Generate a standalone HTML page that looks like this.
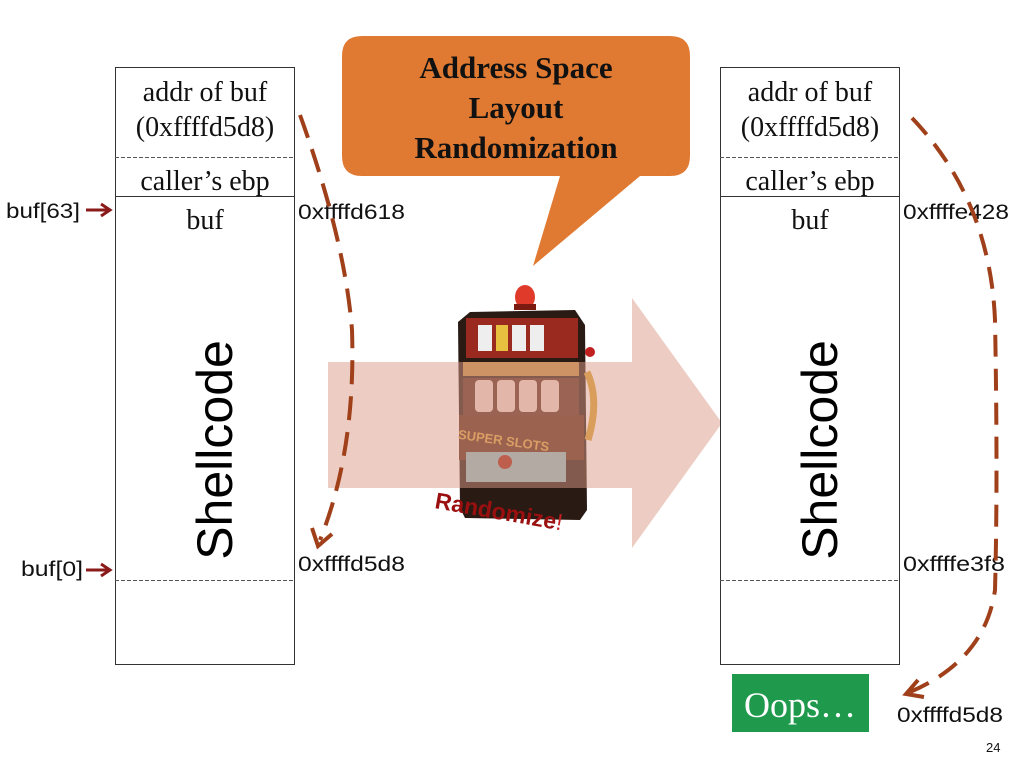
<!DOCTYPE html>
<html><head><meta charset="utf-8"><style>
html,body{margin:0;padding:0;background:#fff;}
svg{display:block;}
.s{font-family:"Liberation Serif",serif;}
.a{font-family:"Liberation Sans",sans-serif;}
</style></head><body>
<svg width="1024" height="768" viewBox="0 0 1024 768" xmlns="http://www.w3.org/2000/svg">
<path d="M362,36 H670 Q690,36 690,56 V156 Q690,176 670,176 H640 L533,266 L560,176 H362 Q342,176 342,156 V56 Q342,36 362,36 Z" fill="#e07a32"/>
<g class="s" font-weight="bold" font-size="31" text-anchor="middle" fill="#111">
<text x="516" y="78">Address Space</text>
<text x="516" y="118">Layout</text>
<text x="516" y="158">Randomization</text>
</g>
<g>
<ellipse cx="525" cy="297" rx="10" ry="12" fill="#e03a2a"/>
<rect x="514" y="304" width="22" height="6" fill="#7a1a10"/>
<path d="M470,312 L575,310 L585,325 L587,510 L580,520 L465,518 L460,508 L458,322 Z" fill="#2a1a14"/>
<rect x="466" y="318" width="112" height="40" fill="#9a2a20"/>
<rect x="478" y="325" width="14" height="26" fill="#eee"/><rect x="496" y="325" width="12" height="26" fill="#e8c040"/><rect x="512" y="325" width="14" height="26" fill="#eee"/><rect x="530" y="325" width="14" height="26" fill="#eee"/>
<rect x="463" y="362" width="116" height="14" fill="#c08a40"/>
<rect x="463" y="378" width="116" height="38" fill="#5a2a20"/>
<rect x="475" y="380" width="18" height="32" rx="4" fill="#e8d0c8"/><rect x="497" y="380" width="18" height="32" rx="4" fill="#e8d0c8"/><rect x="519" y="380" width="18" height="32" rx="4" fill="#e8d0c8"/><rect x="541" y="380" width="18" height="32" rx="4" fill="#e8d0c8"/>
<rect x="459" y="415" width="125" height="45" fill="#5a2818"/>
<text x="503" y="445" class="a" font-weight="bold" font-size="13" fill="#d8a040" text-anchor="middle" transform="rotate(8 503 445)">SUPER SLOTS</text>
<rect x="466" y="452" width="100" height="30" fill="#8ab8c0"/>
<circle cx="505" cy="462" r="7" fill="#a02010"/>
<path d="M587,372 Q600,400 588,440" stroke="#d8a030" stroke-width="7" fill="none"/>
<circle cx="590" cy="352" r="5" fill="#c02020"/>
</g>
<polygon points="328,362 632,362 632,298 722,423 632,548 632,488 328,488" fill="#dc9c88" opacity="0.5"/>
<text x="434" y="508" class="a" font-weight="bold" font-size="23" fill="#9a1010" transform="rotate(10 434 508)">Randomize<tspan font-weight="normal" fill="#c02020">!</tspan></text>
<rect x="115.5" y="67.5" width="179" height="597" fill="#fff" stroke="#333" stroke-width="1"/>
<line x1="115" y1="157.5" x2="294" y2="157.5" stroke="#555" stroke-dasharray="4,2"/>
<line x1="115" y1="196.5" x2="294" y2="196.5" stroke="#333"/>
<line x1="115" y1="580.5" x2="294" y2="580.5" stroke="#555" stroke-dasharray="4,2"/>
<g class="s" font-size="28" text-anchor="middle" fill="#111">
<text x="205" y="101">addr of buf</text>
<text x="205" y="136">(0xffffd5d8)</text>
<text x="205" y="190">caller’s ebp</text>
<text x="205" y="229">buf</text>
</g>
<text class="a" font-size="50" fill="#000" transform="translate(232,450) rotate(-90)" text-anchor="middle">Shellcode</text>
<rect x="720.5" y="67.5" width="179" height="597" fill="#fff" stroke="#333" stroke-width="1"/>
<line x1="720" y1="157.5" x2="899" y2="157.5" stroke="#555" stroke-dasharray="4,2"/>
<line x1="720" y1="196.5" x2="899" y2="196.5" stroke="#333"/>
<line x1="720" y1="580.5" x2="899" y2="580.5" stroke="#555" stroke-dasharray="4,2"/>
<g class="s" font-size="28" text-anchor="middle" fill="#111">
<text x="810" y="101">addr of buf</text>
<text x="810" y="136">(0xffffd5d8)</text>
<text x="810" y="190">caller’s ebp</text>
<text x="810" y="229">buf</text>
</g>
<text class="a" font-size="50" fill="#000" transform="translate(837,450) rotate(-90)" text-anchor="middle">Shellcode</text>
<g class="a" font-size="21" fill="#111">
<text x="6" y="218" textLength="74" lengthAdjust="spacingAndGlyphs">buf[63]</text>
<text x="21" y="576" textLength="62" lengthAdjust="spacingAndGlyphs">buf[0]</text>
<text x="298" y="219" textLength="107" lengthAdjust="spacingAndGlyphs">0xffffd618</text>
<text x="298" y="571" textLength="107" lengthAdjust="spacingAndGlyphs">0xffffd5d8</text>
<text x="903" y="219" textLength="106" lengthAdjust="spacingAndGlyphs">0xffffe428</text>
<text x="903" y="571" textLength="102" lengthAdjust="spacingAndGlyphs">0xffffe3f8</text>
<text x="897" y="722" textLength="106" lengthAdjust="spacingAndGlyphs">0xffffd5d8</text>
<text x="986" y="752" font-size="13">24</text>
</g>
<g stroke="#8b1a1a" stroke-width="3" fill="none">
<line x1="86" y1="210" x2="108" y2="210"/><polyline points="101,204 110,210 101,216"/>
<line x1="86" y1="570" x2="108" y2="570"/><polyline points="101,564 110,570 101,576"/>
</g>
<path d="M300,115 Q345,240 352,330 Q356,450 320,540" stroke="#a0401a" stroke-width="4" fill="none" stroke-dasharray="24,12"/>
<polyline points="312,528 318,546 332,534" stroke="#a0401a" stroke-width="4" fill="none"/>
<path d="M912,118 Q990,200 995,320 Q998,480 995,590 Q985,660 910,692" stroke="#a0401a" stroke-width="4" fill="none" stroke-dasharray="22,12"/>
<polyline points="918,680 906,694 924,697" stroke="#a0401a" stroke-width="4" fill="none"/>
<rect x="732" y="674" width="137" height="58" fill="#1f9a4c"/>
<text x="800" y="717" class="s" font-size="36" fill="#fff" text-anchor="middle">Oops…</text>
</svg>
</body></html>
